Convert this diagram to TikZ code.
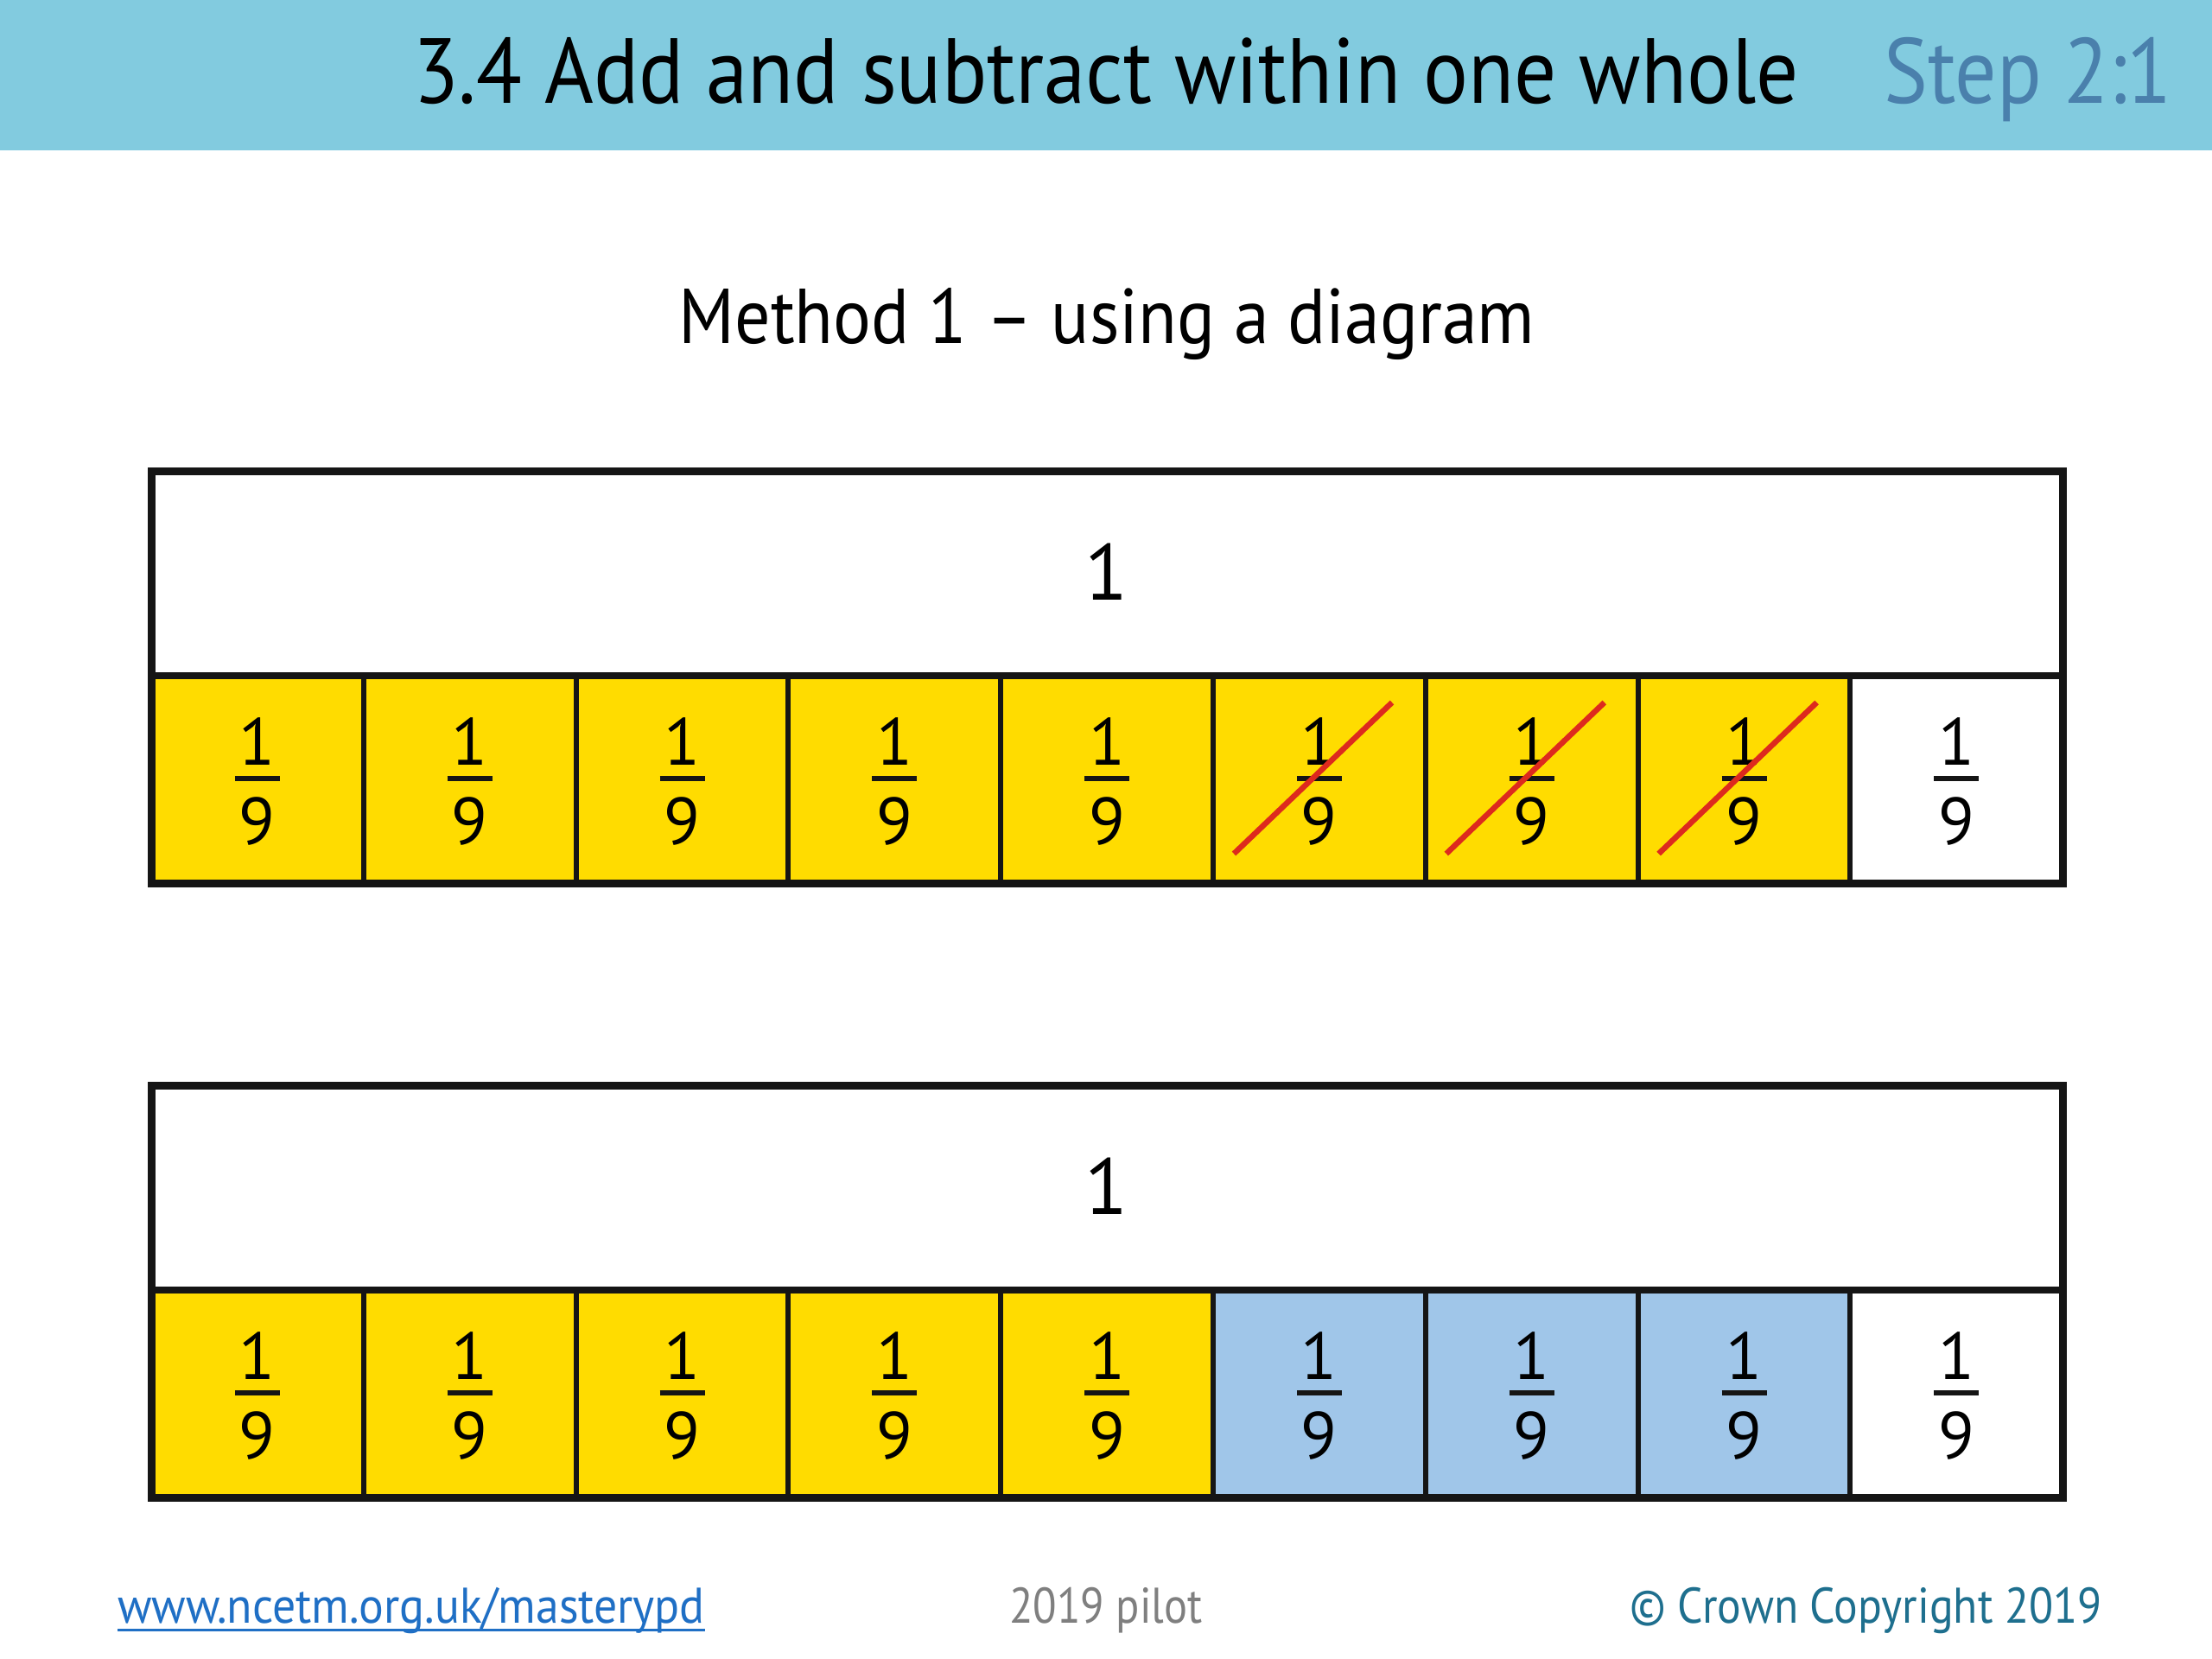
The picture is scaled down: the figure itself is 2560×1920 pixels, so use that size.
\documentclass[tikz,border=0pt]{standalone}
\usepackage{fontspec}
\setmainfont{PT Sans}
\usetikzlibrary{calc}
\definecolor{headc}{HTML}{82CBDF}
\definecolor{stepc}{HTML}{4A80AC}
\definecolor{yel}{HTML}{FFDC00}
\definecolor{blu}{HTML}{A0C6E9}
\definecolor{redc}{HTML}{DD2A1E}
\definecolor{linkc}{HTML}{1F6FC5}
\definecolor{greyc}{HTML}{7F7F7F}
\definecolor{copyc}{HTML}{1E6F8E}
\definecolor{ink}{HTML}{151515}
\newcommand\narrow[2]{\scalebox{#1}[1]{#2}}
\tikzset{
  cellbox/.style={draw=ink, line width=6pt, minimum width=245.8pt, minimum height=240pt, inner sep=0pt, outer sep=0pt},
  wholebox/.style={draw=ink, line width=8pt, minimum width=2212pt, minimum height=237pt, inner sep=0pt, outer sep=0pt, fill=white},
  digit/.style={anchor=base, inner sep=0pt, font=\fontsize{77}{80}\selectfont},
  wholenum/.style={anchor=base, inner sep=0pt, font=\fontsize{92}{96}\selectfont},
  fracbar/.style={draw=ink, line width=6pt},
  strike/.style={draw=redc, line width=6.5pt},
  outer/.style={draw=ink, line width=9pt},
  foot/.style={inner sep=0pt, font=\fontsize{58}{64}\selectfont},
}
\begin{document}
\begin{tikzpicture}[x=1pt,y=-1pt]
\useasboundingbox (0,0) rectangle (2560,1920);
\fill[white] (0,0) rectangle (2560,1920);
\fill[headc] (0,0) rectangle (2560,174);
\node[anchor=base, inner sep=0pt, font=\fontsize{107}{120}\selectfont, text=black] (title) at (1280,119) {\narrow{0.907}{3.4 Add and subtract within one whole}};
\node[anchor=base west, inner sep=0pt, font=\fontsize{107}{120}\selectfont, text=stepc] (step) at (2180,119) {\narrow{0.895}{Step 2:1}};
\node[anchor=base, inner sep=0pt, font=\fontsize{90}{100}\selectfont, text=black] (method) at (1281,397) {\narrow{0.91}{Method 1 – using a diagram}};

% top bar
\node[wholebox] (wa) at (1281,663.5) {};
\node[wholenum] (wan) at (1281,694) {1};
\foreach \i in {1,...,9}{
  \pgfmathsetmacro{\cx}{175+245.8*(\i-0.5)}
  \ifnum\i<9 \def\fc{yel}\else\def\fc{white}\fi
  \node[cellbox, fill=\fc] (a\i) at (\cx,902) {};
  \node[digit] (an\i) at (\cx,885) {1};
  \node[digit] (ad\i) at (\cx,977) {9};
  \draw[fracbar] (\cx-26,901) -- (\cx+26,901);
}
\foreach \i in {6,7,8}{
  \draw[strike] ($(a\i.south west)+(24,-34)$) -- ($(a\i.north west)+(207,31)$);
}
\draw[ink, line width=8pt] (wa.south west) -- (wa.south east);
\draw[outer] (wa.north west) rectangle (a9.south east);

% bottom bar
\node[wholebox] (wb) at (1281,1374.5) {};
\node[wholenum] (wbn) at (1281,1405) {1};
\foreach \i in {1,...,9}{
  \pgfmathsetmacro{\cx}{175+245.8*(\i-0.5)}
  \ifnum\i<6 \def\fc{yel}\else\ifnum\i<9 \def\fc{blu}\else\def\fc{white}\fi\fi
  \node[cellbox, fill=\fc] (b\i) at (\cx,1613) {};
  \node[digit] (bn\i) at (\cx,1596) {1};
  \node[digit] (bd\i) at (\cx,1688) {9};
  \draw[fracbar] (\cx-26,1612) -- (\cx+26,1612);
}
\draw[ink, line width=8pt] (wb.south west) -- (wb.south east);
\draw[outer] (wb.north west) rectangle (b9.south east);

% footer
\node[foot, anchor=base west, text=linkc] (link) at (136,1878) {\narrow{0.926}{www.ncetm.org.uk/masterypd}};
\draw[linkc, line width=3pt] ($(link.base west)+(0,8)$) -- ($(link.base east)+(0,8)$);
\node[foot, anchor=base, text=greyc] (pilot) at (1280,1878) {\narrow{0.87}{2019 pilot}};
\node[foot, anchor=base east, text=copyc] (copy) at (2433,1878) {\narrow{0.89}{© Crown Copyright 2019}};
\end{tikzpicture}
\end{document}
